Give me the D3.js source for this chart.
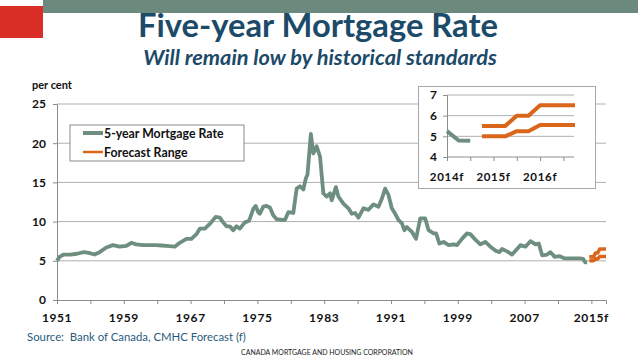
<!DOCTYPE html>
<html><head><meta charset="utf-8">
<script src="https://cdn.jsdelivr.net/npm/d3@7"></script>
<style>body{margin:0;background:#fff}svg{display:block}text{font-family:Lato,"Open Sans",sans-serif}</style>
</head><body>
<svg id="c" width="638" height="359"></svg>
<script>
// ---- data ----
const histYears = [1951.0,1951.3,1951.8,1952.6,1953.4,1954.2,1954.8,1955.5,1956.1,1956.9,1957.7,1958.5,1959.3,1959.9,1960.5,1961.3,1962.1,1962.9,1963.5,1964.1,1965.1,1965.7,1966.5,1967.1,1967.7,1968.1,1968.7,1969.3,1970.0,1970.5,1970.9,1971.3,1971.7,1972.1,1972.5,1972.9,1973.5,1974.0,1974.5,1974.8,1975.1,1975.3,1975.7,1976.1,1976.5,1976.9,1977.3,1978.3,1978.7,1979.3,1979.7,1980.1,1980.5,1980.8,1981.0,1981.4,1981.7,1982.1,1982.5,1982.9,1983.3,1983.7,1983.9,1984.4,1984.7,1985.3,1985.9,1986.3,1986.7,1987.1,1987.7,1988.3,1988.9,1989.5,1989.9,1990.3,1990.7,1991.1,1991.5,1991.9,1992.3,1992.6,1992.9,1993.5,1994.0,1994.5,1995.1,1995.5,1996.1,1996.4,1996.8,1997.3,1997.9,1998.5,1998.9,1999.5,2000.1,2000.5,2001.1,2001.7,2002.3,2002.9,2003.5,2004.0,2004.3,2004.9,2005.5,2006.1,2006.5,2007.1,2007.7,2008.3,2008.7,2009.1,2009.7,2010.1,2010.6,2011.2,2011.8,2012.8,2013.6,2014.0,2014.25,2014.5];
const histRates = [5.0,5.5,5.8,5.8,5.9,6.1,6.0,5.8,6.1,6.7,7.0,6.8,6.9,7.3,7.1,7.0,7.0,7.0,6.95,6.9,6.8,7.3,7.8,7.8,8.4,9.1,9.1,9.7,10.6,10.5,9.9,9.4,9.4,8.9,9.4,9.1,9.9,10.1,11.6,12.0,11.2,11.0,11.9,12.0,11.8,10.8,10.3,10.2,11.2,11.1,14.2,14.5,14.1,15.5,16.0,21.2,18.7,19.6,18.3,13.6,13.2,13.6,12.7,14.4,13.2,12.3,11.7,11.0,11.1,10.5,11.7,11.5,12.2,11.9,12.9,14.2,13.4,11.7,11.0,10.2,9.8,8.9,9.3,8.7,7.8,10.4,10.4,8.9,8.5,8.5,7.2,7.4,7.0,7.1,7.0,7.8,8.5,8.4,7.7,7.1,7.4,6.8,6.3,6.1,6.5,6.2,5.8,6.5,7.0,6.8,7.5,7.1,7.2,5.7,5.8,6.1,5.5,5.6,5.3,5.3,5.3,5.25,4.8,4.79];
const forecastQuarters = [2014.75,2015.0,2015.25,2015.5,2015.75,2016.0,2016.25,2016.5,2016.75];
const forecastHigh = [5.5,5.5,5.5,6.0,6.0,6.5,6.5,6.5,6.5];
const forecastLow  = [5.0,5.0,5.0,5.25,5.25,5.55,5.55,5.55,5.55];
const mainYTicks = [0,5,10,15,20,25];
const mainXLabelYears = [1951,1959,1967,1975,1983,1991,1999,2007,2015];
const mainXLabels = ["1951","1959","1967","1975","1983","1991","1999","2007","2015f"];
const insetYTicks = [4,5,6,7];
const insetXLabelYears = [2014,2015,2016];
const insetXLabels = ["2014f","2015f","2016f"];
const legendLabels = ["5-year Mortgage Rate","Forecast Range"];

// ---- style ----
const GREEN = "#6e8f80", ORANGE = "#d9661b", NAVY = "#1c4a69", GRID = "#b0b0b0", AXIS = "#8c8c8c", TXT = "#111";

const svg = d3.select("#c");
svg.append("rect").attr("x",43).attr("y",0).attr("width",595).attr("height",13).attr("fill","#6b8a7d");
svg.append("rect").attr("x",0).attr("y",6).attr("width",43).attr("height",32).attr("fill","#d92f27");

function fitText(sel, w){
  const cur = sel.node().getComputedTextLength();
  const fs = parseFloat(sel.attr("font-size"));
  sel.attr("font-size", fs*w/cur);
}
const t1 = svg.append("text").attr("x",318).attr("y",37).attr("text-anchor","middle")
  .attr("font-size",28).attr("font-weight","bold").attr("fill",NAVY).text("Five-year Mortgage Rate");
fitText(t1,360);
const t2 = svg.append("text").attr("x",320).attr("y",65).attr("text-anchor","middle")
  .attr("font-size",19).attr("font-weight","bold").attr("font-style","italic").attr("fill",NAVY).text("Will remain low by historical standards");
fitText(t2,354);

// ---- main chart ----
const x = d3.scaleLinear().domain([1951,2016.75]).range([57,606]);
const y = d3.scaleLinear().domain([0,25]).range([300,104]);

svg.append("text").attr("x",32).attr("y",89).attr("font-size",11).attr("font-weight","bold").attr("fill",TXT).text("per cent");

const g = svg.append("g");
g.selectAll("line.grid").data(mainYTicks.filter(d=>d>0)).join("line")
  .attr("x1",57).attr("x2",606).attr("y1",d=>y(d)).attr("y2",d=>y(d)).attr("stroke",GRID).attr("stroke-width",1);

const yAxis = g.append("g").attr("transform","translate(57,0)")
  .call(d3.axisLeft(y).tickValues(mainYTicks).tickSize(4).tickPadding(7).tickFormat(d3.format("d")));
yAxis.select(".domain").attr("stroke",AXIS);
yAxis.selectAll(".tick line").attr("stroke",AXIS);
yAxis.selectAll("text").attr("font-size",12).attr("font-weight","bold").attr("fill",TXT).attr("font-family","Lato");

const minorYears = d3.range(1951,2017,4);
const xAxis = g.append("g").attr("transform","translate(0,300)")
  .call(d3.axisBottom(x).tickValues(minorYears).tickSize(4).tickFormat(""));
xAxis.select(".domain").attr("stroke",AXIS);
xAxis.selectAll(".tick line").attr("stroke",AXIS);
g.selectAll("text.xl").data(mainXLabelYears).join("text").attr("class","xl")
  .attr("x",d=>x(d)).attr("y",322).attr("text-anchor","middle").attr("font-size",12)
  .attr("font-weight","bold").attr("fill",TXT).attr("letter-spacing",0.6).text((d,i)=>mainXLabels[i]);

const histData = histYears.map((d,i)=>({t:d,v:histRates[i]}));
const line = d3.line().x(d=>x(d.t)).y(d=>y(d.v));
g.append("path").datum(histData).attr("d",line).attr("fill","none").attr("stroke",GREEN)
  .attr("stroke-width",3.8).attr("stroke-linejoin","round");
[forecastHigh,forecastLow].forEach(arr=>{
  g.append("path").datum(forecastQuarters.map((d,i)=>({t:d,v:arr[i]}))).attr("d",line)
    .attr("fill","none").attr("stroke",ORANGE).attr("stroke-width",3.6).attr("stroke-linejoin","round");
});

// ---- legend ----
const lg = svg.append("g");
lg.append("rect").attr("x",70).attr("y",125).attr("width",174).attr("height",36).attr("fill","#fff").attr("stroke","#8a8a8a");
const legColors = [GREEN,ORANGE], legW=[4,2.5];
legendLabels.forEach((l,i)=>{
  const yy = 133 + i*19;
  lg.append("line").attr("x1",83).attr("x2",103).attr("y1",yy).attr("y2",yy).attr("stroke",legColors[i]).attr("stroke-width",legW[i]);
  lg.append("text").attr("x",104).attr("y",yy+4.5).attr("font-size",12.3).attr("font-weight","bold").attr("fill",TXT).text(l);
});

// ---- inset ----
const ig = svg.append("g");
ig.append("rect").attr("x",418.5).attr("y",86.5).attr("width",177).attr("height",102).attr("fill","#fff").attr("stroke","#a8a8a8");
const ix = d3.scaleLinear().domain([2014,2016.75]).range([447,575]);
const iy = d3.scaleLinear().domain([4,7]).range([157,95]);
ig.selectAll("line.ig").data(insetYTicks.filter(d=>d>4)).join("line")
  .attr("x1",447).attr("x2",574).attr("y1",d=>iy(d)).attr("y2",d=>iy(d)).attr("stroke",GRID);
const iyAxis = ig.append("g").attr("transform","translate(447,0)")
  .call(d3.axisLeft(iy).tickValues(insetYTicks).tickSize(4).tickPadding(6).tickFormat(d3.format("d")));
iyAxis.select(".domain").attr("stroke",AXIS);
iyAxis.selectAll(".tick line").attr("stroke",AXIS);
iyAxis.selectAll("text").attr("font-size",12).attr("font-weight","bold").attr("fill",TXT).attr("font-family","Lato");
const ixAxis = ig.append("g").attr("transform","translate(0,157)")
  .call(d3.axisBottom(ix).tickValues(d3.range(2014,2016.6,0.5)).tickSize(4).tickFormat(""));
ixAxis.select(".domain").attr("stroke",AXIS).attr("d","M447,0H574");
ixAxis.selectAll(".tick line").attr("stroke",AXIS);
ig.selectAll("text.ixl").data(insetXLabelYears).join("text").attr("class","ixl")
  .attr("x",d=>ix(d)).attr("y",181).attr("text-anchor","middle").attr("font-size",11.5)
  .attr("font-weight","bold").attr("fill",TXT).attr("letter-spacing",0.7).text((d,i)=>insetXLabels[i]);
const iline = d3.line().x(d=>ix(d.t)).y(d=>iy(d.v));
ig.append("path").datum(histData.filter(d=>d.t>=2014)).attr("d",iline).attr("fill","none")
  .attr("stroke",GREEN).attr("stroke-width",4).attr("stroke-linejoin","round");
[forecastHigh,forecastLow].forEach(arr=>{
  ig.append("path").datum(forecastQuarters.map((d,i)=>({t:d,v:arr[i]}))).attr("d",iline)
    .attr("fill","none").attr("stroke",ORANGE).attr("stroke-width",4).attr("stroke-linejoin","round");
});

// ---- footer ----
const s1 = svg.append("text").attr("x",27).attr("y",341).attr("font-size",12).attr("fill","#2a5b7c")
  .attr("xml:space","preserve").text("Source:  Bank of Canada, CMHC Forecast (f)");
fitText(s1,219);
const s2 = svg.append("text").attr("x",327).attr("y",355).attr("text-anchor","middle").attr("font-size",8).attr("fill","#222")
  .text("CANADA MORTGAGE AND HOUSING CORPORATION");
fitText(s2,172);
</script>
</body></html>
